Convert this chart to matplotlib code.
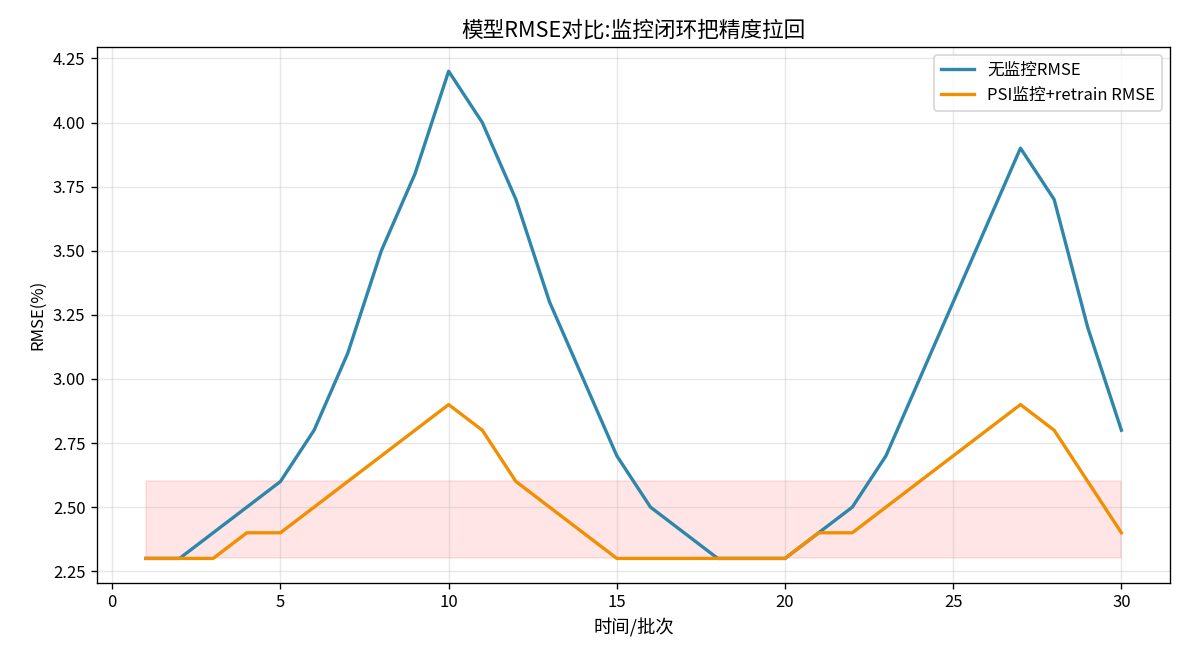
import numpy as np
import matplotlib
matplotlib.use('Agg')
import matplotlib.pyplot as plt

plt.rcParams['font.family'] = ['Noto Sans CJK SC', 'DejaVu Sans']
plt.rcParams['axes.unicode_minus'] = False

# Data
batches = list(range(1, 31))
rmse_no_monitor = [2.3, 2.3, 2.4, 2.5, 2.6, 2.8, 3.1, 3.5, 3.8, 4.2,
                   4.0, 3.7, 3.3, 3.0, 2.7, 2.5, 2.4, 2.3, 2.3, 2.3,
                   2.4, 2.5, 2.7, 3.0, 3.3, 3.6, 3.9, 3.7, 3.2, 2.8]
rmse_psi_retrain = [2.3, 2.3, 2.3, 2.4, 2.4, 2.5, 2.6, 2.7, 2.8, 2.9,
                    2.8, 2.6, 2.5, 2.4, 2.3, 2.3, 2.3, 2.3, 2.3, 2.3,
                    2.4, 2.4, 2.5, 2.6, 2.7, 2.8, 2.9, 2.8, 2.6, 2.4]
band_low, band_high = 2.3, 2.6

fig, ax = plt.subplots(figsize=(9.87, 5.5), dpi=120)

ax.plot(batches, rmse_no_monitor, color='#2E86AB', linewidth=2, label='无监控RMSE')
ax.plot(batches, rmse_psi_retrain, color='#F18F01', linewidth=2, label='PSI监控+retrain RMSE')
ax.fill_between(batches, band_low, band_high, color='red', alpha=0.1)

ax.set_title('模型RMSE对比:监控闭环把精度拉回', fontsize=13)
ax.set_xlabel('时间/批次', fontsize=11)
ax.set_ylabel('RMSE(%)', fontsize=10)
ax.legend(loc='upper right')
ax.grid(True, alpha=0.3)

fig.subplots_adjust(left=0.082, right=0.988, top=0.929, bottom=0.117)
plt.savefig('out.png', dpi=120)
plt.close()
